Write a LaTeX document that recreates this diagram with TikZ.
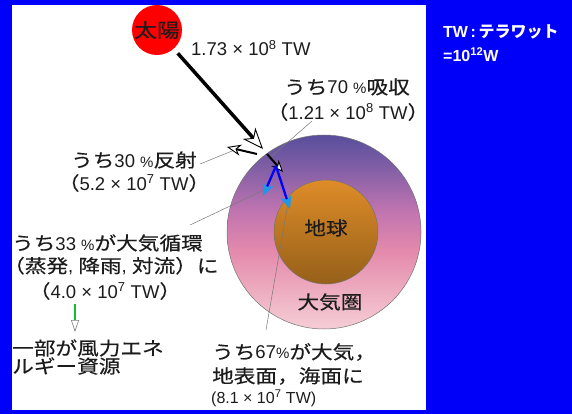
\documentclass[tikz,border=0pt]{standalone}
\usepackage{fontspec}
\setmainfont{Noto Sans CJK JP}[FakeStretch=1.17, FakeBold=0.4]
\newfontfamily\latf{Liberation Sans}
\newfontfamily\jpu{Noto Sans CJK JP}
\newcommand\latn[1]{{\latf#1}}
\newcommand\pct{{\latf\fontsize{15}{15}\selectfont\%}}
\usetikzlibrary{arrows.meta}
\definecolor{bgblue}{RGB}{0,0,250}
\definecolor{txtc}{RGB}{28,28,28}
\definecolor{leader}{RGB}{120,120,120}
\definecolor{skyb}{RGB}{30,150,235}
\definecolor{atmA}{RGB}{88,78,156}
\definecolor{atmB}{RGB}{132,96,166}
\definecolor{atmC}{RGB}{192,116,176}
\definecolor{atmD}{RGB}{228,138,172}
\definecolor{atmE}{RGB}{237,172,192}
\definecolor{atmF}{RGB}{245,206,214}
\definecolor{earthA}{RGB}{222,140,40}
\definecolor{earthB}{RGB}{206,176,92}
\definecolor{earthC}{RGB}{150,96,26}
\definecolor{windg}{RGB}{20,190,40}
% vertical colour run of the atmosphere, bottom to top
\pgfdeclareverticalshading{atmos}{100bp}{%
  color(0bp)=(atmF); color(25bp)=(atmF); color(35bp)=(atmE); color(45bp)=(atmD);
  color(55.5bp)=(atmC); color(66bp)=(atmB); color(75bp)=(atmA); color(100bp)=(atmA)}
\tikzset{
  txt/.style={inner sep=0pt, text=txtc, font=\fontsize{18.5}{18.5}\selectfont},
  unit/.style={inner sep=0pt, anchor=west, text=white, font=\jpu\bfseries\fontsize{16}{16}\selectfont},
  lead/.style={draw=leader, line width=0.5pt},
  openhead/.style={-{Stealth[length=#1, width=0.8*#1, inset=0.3*#1, fill=white, line width=0.9pt]}},
  bluearrow/.style={draw=blue, line width=2.3pt, -{Stealth[length=13pt, width=11pt, inset=3pt, color=skyb]}}
}
\begin{document}
\begin{tikzpicture}[x=1pt, y=-1pt]
\useasboundingbox (0,0) rectangle (572,414);
% page background and white panel
\fill[bgblue] (0,0) rectangle (572,414);
\fill[white] (12,5) rectangle (426,410);

% atmosphere and earth
\node[circle, minimum size=194pt, inner sep=0pt, draw=black!55, line width=0.5pt, shading=atmos]
  (atm) at (324,232) {};
\node[circle, minimum size=104pt, inner sep=0pt, draw=black!55, line width=0.5pt,
  shading=axis, shading angle=45, top color=earthA, middle color=earthB, bottom color=earthC]
  (earth) at (326,232) {};

% sun
\node[circle, fill=red, minimum size=50pt, inner sep=0pt, font=\fontsize{19.5}{19.5}\selectfont, text=txtc]
  (sun) at (157,30) {太陽};

% points where the light meets the atmosphere
\coordinate (hit) at (263,149);
\coordinate (refS) at (257,154);
\coordinate (refT) at (227,147);
\coordinate (absS) at (267,154);
\coordinate (absT) at (283,172);
\coordinate (apex) at (276,166);
\coordinate (blL) at (263,196);
\coordinate (blR) at (290,209);

% leader lines
\coordinate (l70a) at (312,121);
\coordinate (l70b) at (272,156);
\coordinate (l30a) at (200,164);
\coordinate (l30b) at (237,149);
\coordinate (l33a) at (190,225);
\coordinate (l33b) at (264,190);
\coordinate (l67a) at (266,330);
\coordinate (l67b) at (288,203);
\draw[lead] (l70a) -- (l70b);
\draw[lead] (l30a) -- (l30b);
\draw[lead] (l33a) -- (l33b);
\draw[lead] (l67a) -- (l67b);

% incoming sunlight
\draw[line width=3.5pt, openhead=21pt, shorten <=6pt] (sun) -- (hit);
% reflected part
\draw[line width=2pt, openhead=14pt] (refS) -- (refT);
% absorbed part
\draw[line width=2pt, openhead=12pt] (absS) -- (absT);
% split inside the atmosphere
\draw[bluearrow] (apex) -- (blL);
\draw[bluearrow] (apex) -- (blR);

% wind energy arrow
\coordinate (gS) at (75,304);
\coordinate (gT) at (75,332);
\draw[windg, line width=2pt, -{Stealth[length=12pt, width=8pt, inset=0pt, fill=white, color=black!50, line width=0.6pt]}] (gS) -- (gT);

% labels
\node[txt, anchor=west] (tin) at (191,48) {\latn{1.73 × 10\textsuperscript{8} TW}};
\node[txt] (t70) at (347,87) {うち\latn{70 }\pct 吸収};
\node[txt] (t70v) at (348,112) {（\latn{1.21 × 10\textsuperscript{8} TW}）};
\node[txt] (t30) at (134,160) {うち\latn{30 }\pct 反射};
\node[txt] (t30v) at (134,183) {（\latn{5.2 × 10\textsuperscript{7} TW}）};
\node[txt, anchor=west] (t33) at (12,243) {うち\latn{33 }\pct が大気循環};
\node[txt, anchor=west] (t33b) at (3,266) {（蒸発\latn{, }降雨\latn{, }対流）に};
\node[txt] (t33v) at (105,291) {（\latn{4.0 × 10\textsuperscript{7} TW}）};
\node[txt, anchor=west] (wind1) at (12,348) {一部が風力エネ};
\node[txt, anchor=west] (wind2) at (12,366) {ルギー資源};
\node[txt] (tearth) at (326,228) {地球};
\node[txt] (tatm) at (330,302) {大気圏};
\node[txt, anchor=west] (t67) at (212,352) {うち\latn{67}\pct が大気，};
\node[txt, anchor=west] (t67b) at (212,376) {地表面，海面に};
\node[txt, anchor=west] (t67v) at (211,398) {\latf\fontsize{16}{16}\selectfont (8.1 × 10\textsuperscript{7} TW)};

% unit note
\node[unit] (unit1) at (443,32) {\latn{TW\,:\,}テラワット};
\node[unit] (unit2) at (443,55) {\latn{=10\textsuperscript{12}W}};
\end{tikzpicture}
\end{document}
